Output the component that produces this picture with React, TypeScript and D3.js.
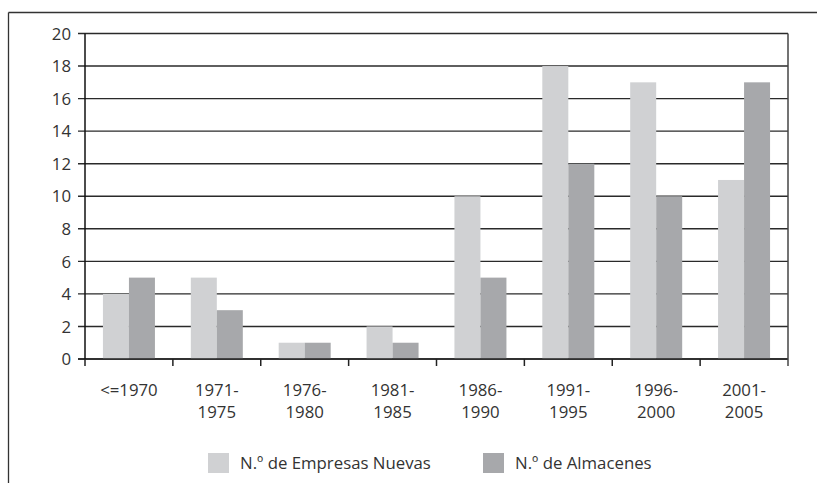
import React from "react";
import * as d3 from "d3";

const categories: string[][] = [
  ["<=1970"],
  ["1971-", "1975"],
  ["1976-", "1980"],
  ["1981-", "1985"],
  ["1986-", "1990"],
  ["1991-", "1995"],
  ["1996-", "2000"],
  ["2001-", "2005"],
];
const empresas = [4, 5, 1, 2, 10, 18, 17, 11];
const almacenes = [5, 3, 1, 1, 5, 12, 10, 17];
const yTicks = [0, 2, 4, 6, 8, 10, 12, 14, 16, 18, 20];
const seriesNames = ["N.º de Empresas Nuevas", "N.º de Almacenes"];
const colors = ["#d0d1d3", "#a7a8ab"];

export default function App() {
  const W = 817, H = 483;
  const left = 85, right = 788, top = 33.5, bottom = 359;
  const x = d3.scaleBand<number>().domain(d3.range(categories.length)).range([left, right]);
  const y = d3.scaleLinear().domain([0, 20]).range([bottom, top]);
  const bw = 26;
  const font = "'Open Sans', 'Noto Sans', sans-serif";
  const fs = 16.8;
  const series = [empresas, almacenes];
  return (
    <svg width={W} height={H} style={{ position: "absolute", left: 0, top: 0 }}>
      <rect x={0} y={0} width={W} height={H} fill="#fff" />
      <line x1={8.5} y1={12.5} x2={W} y2={12.5} stroke="#333" strokeWidth={1.3} />
      <line x1={8.5} y1={12.5} x2={8.5} y2={H} stroke="#333" strokeWidth={1.3} />
      {yTicks.map((t) => (
        <g key={t}>
          <line x1={78} x2={right} y1={y(t)} y2={y(t)} stroke="#2a2a2a" strokeWidth={1.4} />
          <text x={71} y={y(t) + 6.2} textAnchor="end" fontFamily={font} fontSize={fs} fill="#333">
            {t}
          </text>
        </g>
      ))}
      {series.map((vals, s) =>
        vals.map((v, i) => {
          const cx = x(i)! + x.bandwidth() / 2;
          return (
            <rect
              key={`${s}-${i}`}
              x={cx - bw + s * bw}
              y={y(v)}
              width={bw}
              height={bottom - y(v)}
              fill={colors[s]}
            />
          );
        })
      )}
      <line x1={78} x2={right} y1={bottom} y2={bottom} stroke="#222" strokeWidth={1.5} />
      <line x1={left} x2={left} y1={top} y2={bottom} stroke="#111" strokeWidth={1.5} />
      <line x1={right} x2={right} y1={top} y2={366} stroke="#444" strokeWidth={1.5} />
      {d3.range(categories.length).map((i) => (
        <line key={i} x1={x(i)!} x2={x(i)!} y1={bottom} y2={366} stroke="#222" strokeWidth={1.5} />
      ))}
      {categories.map((lines, i) =>
        lines.map((l, j) => (
          <text
            key={`${i}-${j}`}
            x={x(i)! + x.bandwidth() / 2}
            y={396 + j * 22}
            textAnchor="middle"
            fontFamily={font}
            fontSize={fs}
            fill="#333"
          >
            {l}
          </text>
        ))
      )}
      <rect x={208} y={453} width={21} height={20} fill={colors[0]} />
      <text x={240} y={469} fontFamily={font} fontSize={fs} fill="#333">
        {seriesNames[0]}
      </text>
      <rect x={483} y={453} width={21} height={20} fill={colors[1]} />
      <text x={515} y={469} fontFamily={font} fontSize={fs} fill="#333">
        {seriesNames[1]}
      </text>
    </svg>
  );
}
